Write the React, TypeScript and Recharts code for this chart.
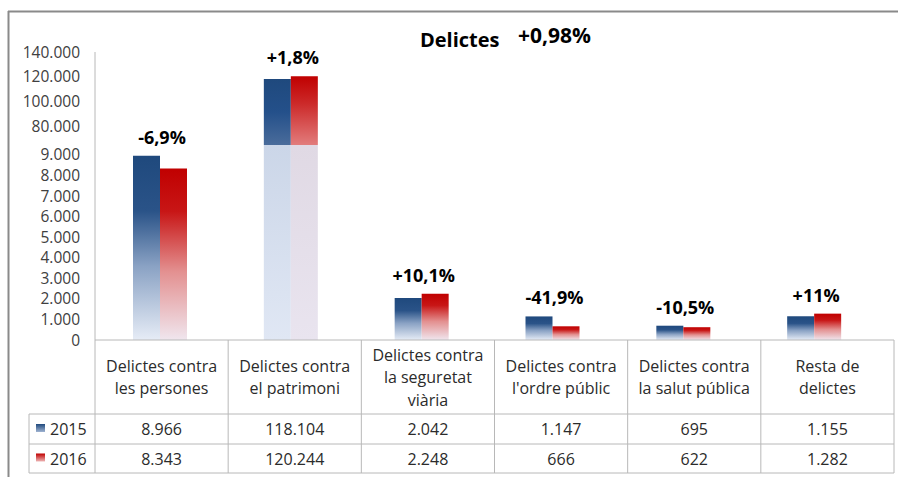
import React from 'react';
import { BarChart, Bar, XAxis, YAxis, LabelList, Cell } from 'recharts';

const categories = [
  'Delictes contra les persones',
  'Delictes contra el patrimoni',
  'Delictes contra la seguretat viària',
  "Delictes contra l'ordre públic",
  'Delictes contra la salut pública',
  'Resta de delictes',
];
const headerLines = [
  ['Delictes contra', 'les persones'],
  ['Delictes contra', 'el patrimoni'],
  ['Delictes contra', 'la seguretat', 'viària'],
  ['Delictes contra', "l'ordre públic"],
  ['Delictes contra', 'la salut pública'],
  ['Resta de', 'delictes'],
];
const years = ['2015', '2016'];
const values2015 = [8966, 118104, 2042, 1147, 695, 1155];
const values2016 = [8343, 120244, 2248, 666, 622, 1282];
const changeLabels = ['-6,9%', '+1,8%', '+10,1%', '-41,9%', '-10,5%', '+11%'];
const title = 'Delictes';
const totalChange = '+0,98%';
const lowerTicks = [0, 1000, 2000, 3000, 4000, 5000, 6000, 7000, 8000, 9000];
const upperTicks = [80000, 100000, 120000, 140000];
// axis break: lower segment tops out here, upper segment starts here
const breakLow = 9486;
const breakHigh = 64600;

const fmt = (n: number) => String(n).replace(/\B(?=(\d{3})+(?!\d))/g, '.');

const data = categories.map((name, i) => ({
  name,
  y2015: values2015[i],
  y2016: values2016[i],
  change: changeLabels[i],
}));
const upperData = data.map((d) => ({
  ...d,
  y2015: d.y2015 > breakLow ? d.y2015 : null,
  y2016: d.y2016 > breakLow ? d.y2016 : null,
}));

const FONT = '"Open Sans", sans-serif';
const GRID = '#b8b8b8';
const TEXT = '#2b2b2b';

// draws the % change above the taller bar, centred on the pair
const changeLabel = (side: 'left' | 'right') => (props: any) => {
  const { value } = props;
  if (!value) return null;
  const vb = props.viewBox || {};
  const x = props.x ?? vb.x;
  const y = props.y ?? vb.y;
  const w = props.width ?? vb.width;
  const cx = side === 'right' ? x + w + 2 : x + 2;
  return (
    <text x={cx} y={y - 12} textAnchor="middle" fontFamily={FONT} fontWeight={700} fontSize={18} fill="#000">
      {value}
    </text>
  );
};

const axisTick = { fontSize: 15.5, fill: '#404040', fontFamily: FONT };

function Gradients({ prefix }: { prefix: string }) {
  return (
    <defs>
      <linearGradient id={`${prefix}Blue`} x1="0" y1="0" x2="0" y2="1">
        <stop offset="0" stopColor="#1F497D" />
        <stop offset="0.3" stopColor="#2A5388" />
        <stop offset="0.6" stopColor="#8AA2C4" />
        <stop offset="1" stopColor="#E6ECF6" />
      </linearGradient>
      <linearGradient id={`${prefix}Red`} x1="0" y1="0" x2="0" y2="1">
        <stop offset="0" stopColor="#C00000" />
        <stop offset="0.25" stopColor="#C81616" />
        <stop offset="0.6" stopColor="#E39090" />
        <stop offset="1" stopColor="#F0E6EE" />
      </linearGradient>
      <linearGradient id={`${prefix}BlueTop`} x1="0" y1="0" x2="0" y2="1">
        <stop offset="0" stopColor="#1F497D" />
        <stop offset="0.5" stopColor="#24508A" />
        <stop offset="1" stopColor="#4A6C9B" />
      </linearGradient>
      <linearGradient id={`${prefix}RedTop`} x1="0" y1="0" x2="0" y2="1">
        <stop offset="0" stopColor="#C00000" />
        <stop offset="0.4" stopColor="#CC2A2A" />
        <stop offset="1" stopColor="#E27C7C" />
      </linearGradient>
      <linearGradient id={`${prefix}BluePale`} gradientUnits="userSpaceOnUse" x1="0" y1="145" x2="0" y2="340">
        <stop offset="0" stopColor="#CBD6E8" />
        <stop offset="1" stopColor="#E0E7F4" />
      </linearGradient>
      <linearGradient id={`${prefix}RedPale`} gradientUnits="userSpaceOnUse" x1="0" y1="145" x2="0" y2="340">
        <stop offset="0" stopColor="#E0D9E4" />
        <stop offset="1" stopColor="#E9E4EF" />
      </linearGradient>
    </defs>
  );
}

export default function App() {
  const colX0 = 95;
  const colW = (894 - 95) / categories.length;
  const rows = [values2015, values2016];

  return (
    <div style={{ position: 'absolute', left: 0, top: 0, width: 898, height: 477, background: '#fff', overflow: 'hidden' }}>
      <div style={{ position: 'absolute', left: 0, top: 0 }}>
        <BarChart
          width={898}
          height={477}
          data={data}
          margin={{ top: 145, right: 18, bottom: 137, left: 15 }}
          barGap={0}
          barSize={27}
        >
          <Gradients prefix="lo" />
          <XAxis dataKey="name" hide />
          <YAxis
            width={80}
            domain={[0, breakLow]}
            allowDataOverflow
            ticks={lowerTicks}
            interval={0}
            tickFormatter={fmt}
            tickSize={0}
            tickMargin={15}
            tickLine={false}
            axisLine={{ stroke: GRID }}
            tick={axisTick}
          />
          <Bar dataKey="y2015" isAnimationActive={false}>
            {data.map((d, i) => (
              <Cell key={i} fill={d.y2015 > breakLow ? 'url(#loBluePale)' : 'url(#loBlue)'} />
            ))}
            <LabelList
              dataKey={(d: any) => (d.y2015 >= d.y2016 && d.y2015 <= breakLow ? d.change : '')}
              content={changeLabel('right')}
            />
          </Bar>
          <Bar dataKey="y2016" isAnimationActive={false}>
            {data.map((d, i) => (
              <Cell key={i} fill={d.y2016 > breakLow ? 'url(#loRedPale)' : 'url(#loRed)'} />
            ))}
            <LabelList
              dataKey={(d: any) => (d.y2016 > d.y2015 && d.y2016 <= breakLow ? d.change : '')}
              content={changeLabel('left')}
            />
          </Bar>
        </BarChart>
      </div>

      <div style={{ position: 'absolute', left: 0, top: 0 }}>
        <BarChart
          width={898}
          height={145}
          data={upperData}
          margin={{ top: 52, right: 18, bottom: 0, left: 15 }}
          barGap={0}
          barSize={27}
        >
          <Gradients prefix="up" />
          <XAxis dataKey="name" hide />
          <YAxis
            width={80}
            domain={[breakHigh, 140000]}
            allowDataOverflow
            ticks={upperTicks}
            interval={0}
            tickFormatter={fmt}
            tickSize={0}
            tickMargin={15}
            tickLine={false}
            axisLine={{ stroke: GRID }}
            tick={axisTick}
          />
          <Bar dataKey="y2015" fill="url(#upBlueTop)" isAnimationActive={false}>
            <LabelList
              dataKey={(d: any) => (d.y2015 != null && d.y2015 >= d.y2016 ? d.change : '')}
              content={changeLabel('right')}
            />
          </Bar>
          <Bar dataKey="y2016" fill="url(#upRedTop)" isAnimationActive={false}>
            <LabelList
              dataKey={(d: any) => (d.y2016 != null && d.y2016 > d.y2015 ? d.change : '')}
              content={changeLabel('left')}
            />
          </Bar>
        </BarChart>
      </div>

      <svg width={898} height={477} style={{ position: 'absolute', left: 0, top: 0, pointerEvents: 'none' }}>
        <defs>
          <linearGradient id="lgBlue" x1="0" y1="0" x2="0" y2="1">
            <stop offset="0" stopColor="#1F497D" />
            <stop offset="1" stopColor="#9FB3D1" />
          </linearGradient>
          <linearGradient id="lgRed" x1="0" y1="0" x2="0" y2="1">
            <stop offset="0" stopColor="#C00000" />
            <stop offset="1" stopColor="#EDB5B5" />
          </linearGradient>
        </defs>
        {/* outer frame */}
        <line x1={8} y1={11.5} x2={898} y2={11.5} stroke="#8a8a8a" strokeWidth={2} />
        <line x1={8.5} y1={11} x2={8.5} y2={477} stroke="#8a8a8a" strokeWidth={2} />

        <text x={420} y={47} fontFamily={FONT} fontWeight={700} fontSize={20} fill="#000">{title}</text>
        <text x={518} y={43} fontFamily={FONT} fontWeight={700} fontSize={21} fill="#000">{totalChange}</text>

        {/* data table */}
        <line x1={colX0} y1={340} x2={894} y2={340} stroke={GRID} />
        {[414, 444, 473].map((y) => (
          <line key={y} x1={29} y1={y} x2={894} y2={y} stroke={GRID} />
        ))}
        <line x1={29} y1={414} x2={29} y2={473} stroke={GRID} />
        {categories.map((_, i) => (
          <line key={i} x1={colX0 + i * colW} y1={340} x2={colX0 + i * colW} y2={473} stroke={GRID} />
        ))}
        <line x1={894} y1={340} x2={894} y2={473} stroke={GRID} />

        {headerLines.map((lines, i) => (
          <text key={i} textAnchor="middle" fontFamily={FONT} fontSize={16} fill={TEXT}>
            {lines.map((ln, j) => (
              <tspan key={j} x={colX0 + (i + 0.5) * colW} y={377 + (j - (lines.length - 1) / 2) * 22.5 + 6}>
                {ln}
              </tspan>
            ))}
          </text>
        ))}

        {rows.map((vals, r) => {
          const cy = r === 0 ? 429 : 458.5;
          return (
            <g key={r}>
              <rect x={36} y={cy - 5} width={9} height={8} fill={r === 0 ? 'url(#lgBlue)' : 'url(#lgRed)'} />
              <text x={50} y={cy + 6} fontFamily={FONT} fontSize={16} fill={TEXT}>{years[r]}</text>
              {vals.map((v, i) => (
                <text key={i} x={colX0 + (i + 0.5) * colW} y={cy + 6} textAnchor="middle" fontFamily={FONT} fontSize={16} fill={TEXT}>
                  {fmt(v)}
                </text>
              ))}
            </g>
          );
        })}
      </svg>
    </div>
  );
}
